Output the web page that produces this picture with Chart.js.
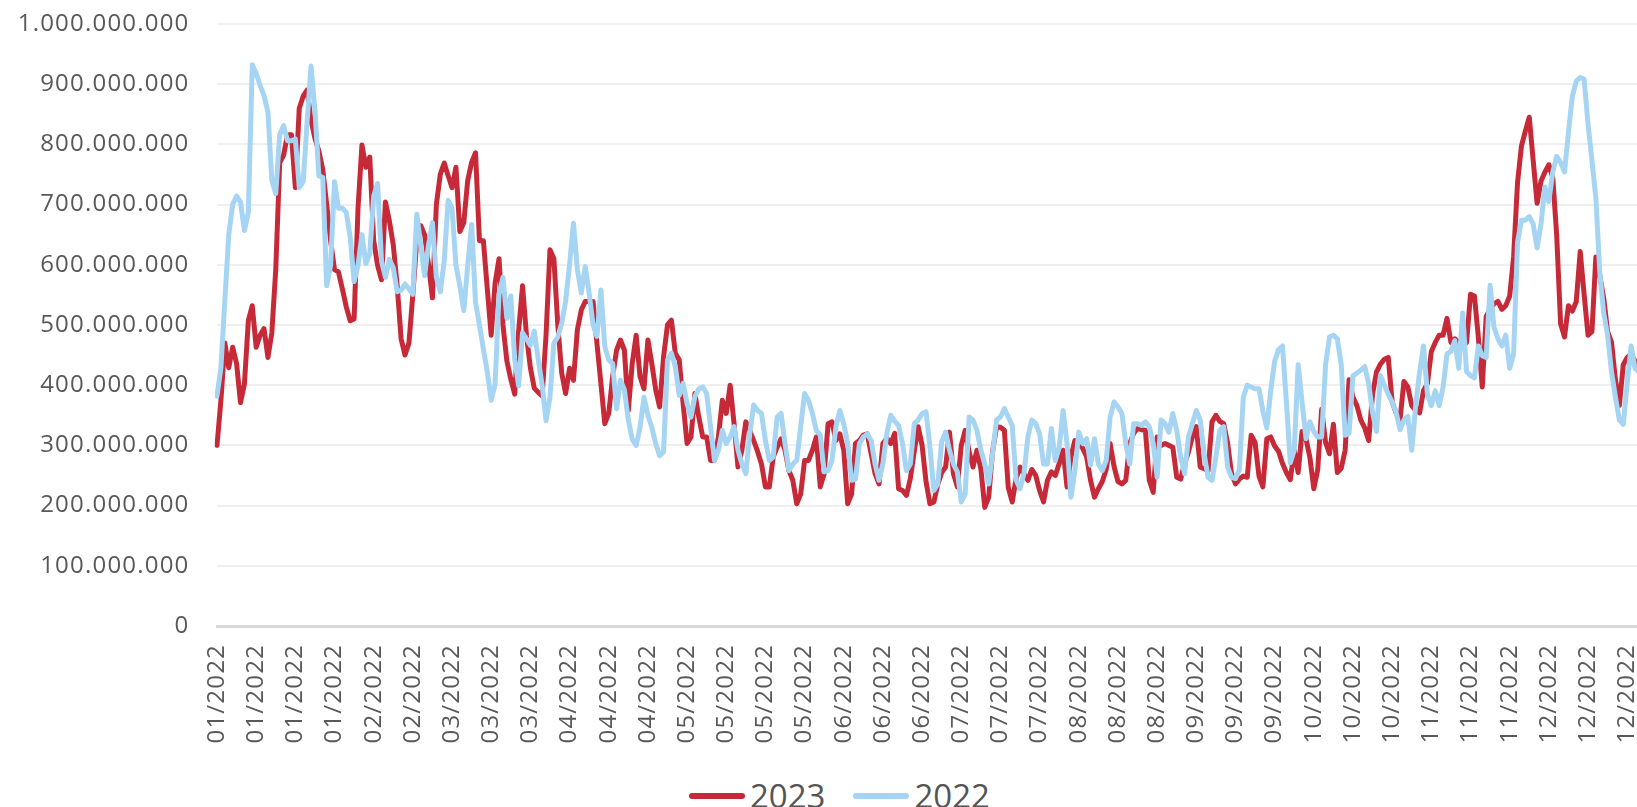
<!DOCTYPE html>
<html>
<head>
<meta charset="utf-8">
<script src="https://cdn.jsdelivr.net/npm/chart.js@4.4.0/dist/chart.umd.min.js"></script>
<style>
  html, body { margin: 0; padding: 0; background: #fff; overflow: hidden; width: 1637px; height: 807px; }
  #wrap { position: absolute; left: 0; top: -18px; width: 1674px; height: 767px; }
  #legend { position: absolute; top: 774px; left: 689px; display: flex; align-items: center;
            font-family: "Open Sans", sans-serif; font-size: 33px; color: #555; line-height: 44px; }
  #legend .sw { display: inline-block; width: 56px; height: 6px; border-radius: 3px; margin-right: 5px; }
  #legend .item { display: flex; align-items: center; margin-right: 28px; }
</style>
</head>
<body>
<div id="wrap"><canvas id="salesChart"></canvas></div>
<div id="legend"></div>
<script>
// daily values, millions
const monthDays = [31, 28, 31, 30, 31, 30, 31, 31, 30, 31, 30, 31];
const yTicks = [0, 100, 200, 300, 400, 500, 600, 700, 800, 900, 1000];

const values2023 = [
  300,375,470,429,463,436,371,402,507,532,
  463,483,494,446,487,592,769,782,816,816,
  728,860,880,890,840,810,789,758,700,640,
  592,588,560,530,507,510,694,799,762,779,
  640,599,575,704,673,633,565,477,450,470,
  551,640,665,650,600,545,700,750,769,748,
  728,762,655,670,740,770,786,640,640,560,
  483,570,610,500,440,410,385,490,565,483,
  429,395,388,382,483,625,610,500,420,386,
  428,408,492,525,539,539,539,469,403,336,
  353,414,458,475,458,358,436,483,414,394,
  475,436,392,364,447,500,508,453,442,369,
  303,314,386,347,314,314,275,275,314,375,
  353,400,336,264,292,339,325,308,290,269,
  231,231,281,297,311,292,258,242,203,219,
  275,275,292,314,231,253,336,339,308,319,
  292,203,219,303,308,317,319,286,253,236,
  303,312,303,320,228,225,217,245,290,331,
  300,240,203,206,235,255,264,322,253,231,
  300,325,290,264,292,261,197,214,290,331,
  330,325,230,206,245,264,253,242,260,250,
  225,206,242,256,250,270,292,231,281,308,
  306,295,281,242,214,228,240,260,303,265,
  240,236,242,303,320,328,326,325,242,222,
  314,300,303,300,297,247,244,270,289,314,
  331,264,261,258,339,350,340,336,303,253,
  236,244,249,247,317,305,249,231,311,314,
  299,290,270,255,243,292,255,323,311,280,
  228,260,360,305,286,335,255,262,292,409,
  380,366,342,329,308,385,422,435,443,446,
  372,354,342,406,397,366,358,354,391,403,
  456,471,483,483,511,471,477,470,465,471,
  551,548,480,397,514,526,535,539,526,532,
  548,613,736,797,822,845,773,702,739,754,
  766,745,649,502,480,532,523,539,622,551,
  483,489,613,582,545,489,471,409,366,434,
  446,452,440,435,430
];

const values2022 = [
  382,429,540,650,700,714,704,657,687,932,
  918,898,881,854,740,718,816,831,806,806,
  809,728,738,837,930,857,748,745,565,599,
  738,694,694,687,646,572,599,650,602,619,
  714,735,606,579,609,595,555,558,568,560,
  551,684,633,582,633,670,579,555,606,707,
  694,599,565,524,599,667,538,500,460,422,
  375,402,551,579,511,548,443,399,487,477,
  466,490,443,400,341,380,470,480,503,540,
  600,669,592,553,597,553,500,481,558,464,
  442,436,361,408,392,342,310,300,330,380,
  350,330,303,283,289,442,453,431,383,403,
  369,347,381,394,397,386,331,275,292,325,
  303,314,331,292,269,253,319,367,358,353,
  308,275,281,347,353,303,258,269,275,331,
  386,375,353,325,317,256,258,275,331,358,
  336,303,242,244,303,314,319,308,269,242,
  270,320,350,340,333,303,258,269,336,342,
  353,356,297,225,236,306,322,292,269,256,
  206,219,347,342,325,292,269,236,286,342,
  347,361,347,333,242,228,253,314,342,336,
  319,269,269,328,275,297,358,303,214,258,
  322,303,311,267,311,269,258,275,347,372,
  364,353,303,269,336,336,333,339,331,303,
  247,342,336,322,353,325,281,253,314,336,
  358,342,286,247,242,281,325,331,264,247,
  245,260,380,400,397,394,394,357,329,391,
  440,459,465,372,271,292,434,372,311,339,
  323,314,314,434,480,483,477,434,317,320,
  416,420,425,431,403,354,323,416,400,385,
  372,355,326,342,348,292,366,422,465,385,
  366,391,366,397,452,456,474,428,520,422,
  416,412,465,449,446,566,496,477,465,483,
  428,452,637,674,674,680,668,628,668,729,
  705,754,780,770,754,820,880,905,911,908,
  834,773,711,588,520,483,422,380,342,335,
  403,465,428,422,415
];

// one label per day, "MM/2022"
const dayLabels = [];
monthDays.forEach((n, m) => {
  const mm = String(m + 1).padStart(2, "0");
  for (let d = 0; d < n; d++) dayLabels.push(mm + "/2022");
});

const red = "#c62a38";
const blue = "#a6d4f3";
const textColor = "#595959";
const tickFont = { family: "Open Sans", size: 24 };

function formatDots(v) {
  return String(Math.round(v)).replace(/\B(?=(\d{3})+(?!\d))/g, ".");
}

// the original labels are a bit more spaced out than Open Sans
const letterSpacingPlugin = {
  id: "letterSpacing",
  beforeUpdate(chart) { chart.ctx.letterSpacing = "1.2px"; },
  beforeDraw(chart) { chart.ctx.letterSpacing = "1.2px"; },
};

const ctx = document.getElementById("salesChart").getContext("2d");

const chart = new Chart(ctx, {
  type: "line",
  plugins: [letterSpacingPlugin],
  data: {
    labels: dayLabels,
    datasets: [
      {
        label: "2022",
        data: values2022.map((v) => v * 1e6),
        borderColor: blue,
        backgroundColor: blue,
        borderWidth: 5,
        fill: false,
      },
      {
        label: "2023",
        data: values2023.map((v) => v * 1e6),
        borderColor: red,
        backgroundColor: red,
        borderWidth: 5,
        fill: false,
      },
    ],
  },
  options: {
    responsive: true,
    maintainAspectRatio: false,
    animation: false,
    layout: { padding: 0 },
    elements: {
      point: { radius: 0, hoverRadius: 0 },
      line: { tension: 0, borderJoinStyle: "round", borderCapStyle: "round" },
    },
    plugins: {
      legend: { display: false },
      tooltip: { enabled: false },
    },
    scales: {
      x: {
        afterFit: (axis) => { axis.height = 123; },
        grid: { display: false, drawTicks: false },
        border: { display: true, color: "#d9d9d9", width: 3 },
        ticks: {
          autoSkip: false,
          maxRotation: 90,
          minRotation: 90,
          padding: 18,
          color: textColor,
          font: tickFont,
          callback: function (val, idx) {
            return idx % 10 === 0 ? this.getLabelForValue(val) : null;
          },
        },
      },
      y: {
        min: 0,
        max: yTicks[yTicks.length - 1] * 1e6,
        afterBuildTicks: (axis) => {
          axis.ticks = yTicks.map((v) => ({ value: v * 1e6 }));
        },
        afterFit: (axis) => { axis.width = 217; },
        border: { display: false },
        grid: {
          drawTicks: false,
          lineWidth: 2,
          color: (c) => (c.tick && c.tick.value === 0 ? "#d9d9d9" : "#efefef"),
        },
        ticks: {
          padding: 27.5,
          color: textColor,
          font: tickFont,
          callback: (v) => formatDots(v),
        },
      },
    },
  },
});

// legend (2023 first, as in the original)
const legend = document.getElementById("legend");
[chart.data.datasets[1], chart.data.datasets[0]].forEach((ds) => {
  const item = document.createElement("span");
  item.className = "item";
  const sw = document.createElement("span");
  sw.className = "sw";
  sw.style.background = ds.borderColor;
  const txt = document.createElement("span");
  txt.textContent = ds.label;
  item.appendChild(sw);
  item.appendChild(txt);
  legend.appendChild(item);
});
</script>
</body>
</html>
